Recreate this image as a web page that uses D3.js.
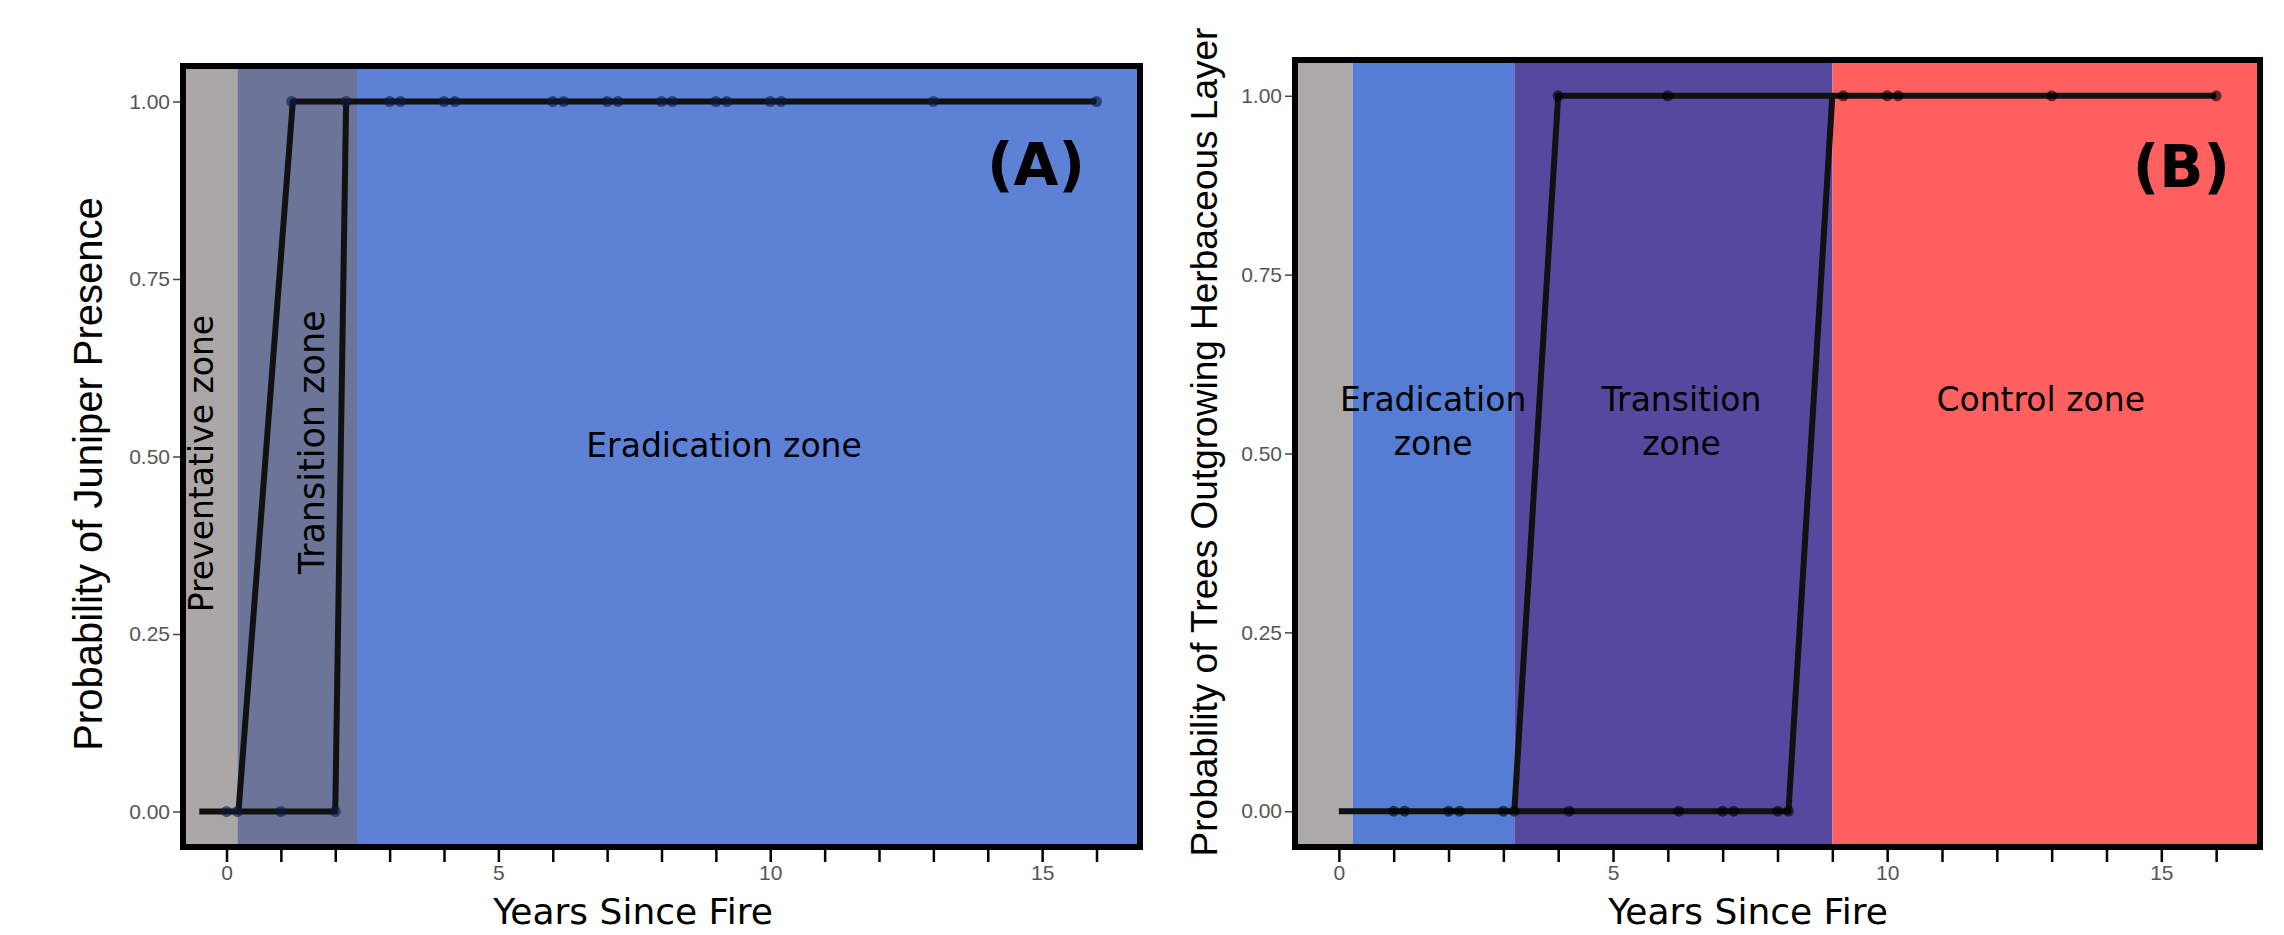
<!DOCTYPE html>
<html>
<head>
<meta charset="utf-8">
<script src="https://cdn.jsdelivr.net/npm/d3@7"></script>
<style>
  body { margin: 0; background: #fff; }
  .tick-y text, .tick-x text { font-family: "Liberation Sans", Arial, sans-serif; }
</style>
</head>
<body>
<div id="chart"></div>
<script>
// ---- data ----
var xTickValues = [0, 1, 2, 3, 4, 5, 6, 7, 8, 9, 10, 11, 12, 13, 14, 15, 16];
var xTickLabels = ["0", "", "", "", "", "5", "", "", "", "", "10", "", "", "", "", "15", ""];
var yTickValues = [0, 0.25, 0.5, 0.75, 1];

// panel A : juniper presence
var zoneNamesA = ["Preventative zone", "Transition zone", "Eradication zone"];
var zoneBreaksA = [-0.8, 0.2, 2.4, 16.8];
var juniperAbsent = [0, 0.2, 1, 2];
var juniperPresent = [1.2, 2.2, 3, 3.2, 4, 4.2, 6, 6.2, 7, 7.2, 8, 8.2, 9, 9.2, 10, 10.2, 13, 16];
var juniperFit = [
  [[-0.5, 0], [0.22, 0], [1.22, 1], [16, 1]],
  [[0.22, 0], [2, 0], [2.2, 1]]
];

// panel B : trees outgrowing herbaceous layer
var zoneNamesB = ["", "Eradication\nzone", "Transition\nzone", "Control zone"];
var zoneBreaksB = [-0.8, 0.25, 3.2, 9, 16.8];
var treesNo = [1, 1.2, 2, 2.2, 3, 3.2, 4.2, 6.2, 7, 7.2, 8, 8.2];
var treesYes = [4, 6, 9.2, 10, 10.2, 13, 16];
var treesFit = [
  [[0, 0], [3.2, 0], [4, 1], [16, 1]],
  [[3.2, 0], [8.2, 0], [9, 1]]
];

var svg = d3.select("#chart").append("svg")
  .attr("width", 2284)
  .attr("height", 935);

function drawPanel(p) {
  var x = d3.scaleLinear().domain([-0.8, 16.8]).range([p.left, p.right]);
  var y = d3.scaleLinear().domain([-0.05, 1.05]).range([p.bottom, p.top]);
  var g = svg.append("g");

  // background zones
  g.selectAll("rect.zone")
    .data(p.breaks.slice(0, -1))
    .enter()
    .append("rect")
    .attr("class", "zone")
    .attr("x", function(d) { return x(d); })
    .attr("width", function(d, i) { return x(p.breaks[i + 1]) - x(d); })
    .attr("y", p.top)
    .attr("height", p.bottom - p.top)
    .attr("fill", function(d, i) { return p.colors[i]; });

  // zone labels
  p.labels.forEach(function(l) {
    var t = g.append("text")
      .attr("font-family", "'DejaVu Sans', Verdana, sans-serif")
      .attr("font-size", l.size)
      .attr("fill", "#000")
      .attr("text-anchor", "middle");
    if (l.rotate) {
      t.attr("transform", "translate(" + x(l.x) + "," + y(l.y) + ") rotate(-90)").text(l.text);
    } else {
      l.text.split("\n").forEach(function(line, i) {
        t.append("tspan")
          .attr("x", x(l.x))
          .attr("y", y(l.y) + i * 44)
          .text(line);
      });
    }
  });

  // fitted line
  var line = d3.line().x(function(d) { return x(d[0]); }).y(function(d) { return y(d[1]); });
  g.selectAll("path.fit")
    .data(p.fit)
    .enter()
    .append("path")
    .attr("class", "fit")
    .attr("d", line)
    .attr("fill", "none")
    .attr("stroke", "#111")
    .attr("stroke-width", 6)
    .attr("stroke-linejoin", "round");

  // observations
  var pts = p.zeros.map(function(v) { return [v, 0]; })
    .concat(p.ones.map(function(v) { return [v, 1]; }));
  g.selectAll("circle")
    .data(pts)
    .enter()
    .append("circle")
    .attr("cx", function(d) { return x(d[0]); })
    .attr("cy", function(d) { return y(d[1]); })
    .attr("r", 5.5)
    .attr("fill", p.dotColor)
    .attr("opacity", 0.6);

  // frame
  g.append("rect")
    .attr("x", p.left)
    .attr("y", p.top)
    .attr("width", p.right - p.left)
    .attr("height", p.bottom - p.top)
    .attr("fill", "none")
    .attr("stroke", "#000")
    .attr("stroke-width", 6);

  // y axis
  var yAxis = g.append("g")
    .attr("class", "tick-y")
    .attr("transform", "translate(" + (p.left - 3) + ",0)")
    .call(d3.axisLeft(y).tickValues(yTickValues).tickFormat(d3.format(".2f")).tickSize(7).tickPadding(3));
  yAxis.select(".domain").remove();
  yAxis.selectAll("line").attr("stroke", "#444").attr("stroke-width", 1.5);
  yAxis.selectAll("text").attr("font-size", 21).attr("fill", "#555");

  // x axis
  var xAxis = g.append("g")
    .attr("class", "tick-x")
    .attr("transform", "translate(0," + (p.bottom + 3) + ")")
    .call(d3.axisBottom(x).tickValues(xTickValues)
      .tickFormat(function(d, i) { return xTickLabels[i]; })
      .tickSize(12).tickPadding(3));
  xAxis.select(".domain").remove();
  xAxis.selectAll("line").attr("stroke", "#000").attr("stroke-width", 2.5);
  xAxis.selectAll("text").attr("font-size", 21).attr("fill", "#555");

  // axis titles
  g.append("text")
    .attr("x", p.xTitleX)
    .attr("y", 924)
    .attr("text-anchor", "middle")
    .attr("font-family", "'DejaVu Sans', Verdana, sans-serif")
    .attr("font-size", 36)
    .text("Years Since Fire");

  g.append("text")
    .attr("transform", "translate(" + p.yTitleX + "," + p.yTitleY + ") rotate(-90)")
    .attr("text-anchor", "middle")
    .attr("font-family", "'Liberation Sans', Arial, sans-serif")
    .attr("font-size", p.yTitleSize)
    .text(p.yTitle);

  // panel letter
  g.append("text")
    .attr("x", p.tagX)
    .attr("y", p.tagY)
    .attr("text-anchor", "end")
    .attr("font-family", "'DejaVu Sans', Verdana, sans-serif")
    .attr("font-weight", "bold")
    .attr("font-size", 58)
    .text(p.tag);
}

drawPanel({
  left: 183, right: 1140, top: 66, bottom: 847,
  breaks: zoneBreaksA,
  colors: ["#aba7a7", "#6c7598", "#5d81d5"],
  dotColor: "#0a1a40",
  labels: [
    { text: zoneNamesA[0], x: -0.24, y: 0.49, rotate: true, size: 33 },
    { text: zoneNamesA[1], x: 1.8, y: 0.52, rotate: true, size: 35 },
    { text: zoneNamesA[2], x: 9.15, y: 0.50, rotate: false, size: 33 }
  ],
  fit: juniperFit,
  zeros: juniperAbsent,
  ones: juniperPresent,
  xTitleX: 633,
  yTitle: "Probability of Juniper Presence",
  yTitleX: 102, yTitleY: 474, yTitleSize: 40,
  tag: "(A)", tagX: 1085, tagY: 185
});

drawPanel({
  left: 1295, right: 2260, top: 60, bottom: 847,
  breaks: zoneBreaksB,
  colors: ["#aba9a9", "#557dd4", "#56489e", "#fe5f5f"],
  dotColor: "#000",
  labels: [
    { text: zoneNamesB[1], x: 1.72, y: 0.56, rotate: false, size: 33 },
    { text: zoneNamesB[2], x: 6.25, y: 0.56, rotate: false, size: 33 },
    { text: zoneNamesB[3], x: 12.8, y: 0.56, rotate: false, size: 33 }
  ],
  fit: treesFit,
  zeros: treesNo,
  ones: treesYes,
  xTitleX: 1748,
  yTitle: "Probability of Trees Outgrowing Herbaceous Layer",
  yTitleX: 1217, yTitleY: 442, yTitleSize: 37,
  tag: "(B)", tagX: 2230, tagY: 187
});
</script>
</body>
</html>
